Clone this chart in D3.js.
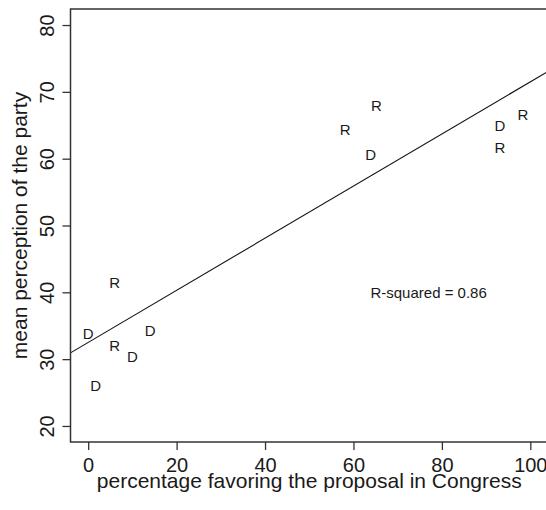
<!DOCTYPE html>
<meta charset="utf-8">
<style>
  body { margin: 0; background: #fff; }
  text { font-family: "Liberation Sans", Arial, sans-serif; fill: #1a1a1a; }
  .axis text { font-size: 20px; }
  .axis line, .axis path { stroke: #333; stroke-width: 1.3; }
  .title { font-size: 21px; text-anchor: middle; }
  .pt { font-size: 15px; text-anchor: middle; }
</style>
<body>
<svg width="546" height="510"></svg>
<script src="https://d3js.org/d3.v7.min.js"></script>
<script>

// party labels and positions of each point
var party = ["R", "D", "R", "D", "D", "D", "R", "R", "D", "R", "D", "R"];
var pctFavor = [6, 0, 6, 10, 14, 1.7, 65.2, 58.1, 63.9, 98.3, 93.1, 93.1];
var meanPerception = [41.4, 33.8, 32.0, 30.4, 34.2, 26.1, 68.0, 64.3, 60.6, 66.6, 64.9, 61.7];

var xTicks = [0, 20, 40, 60, 80, 100];
var yTicks = [20, 30, 40, 50, 60, 70, 80];

// fitted line
var fitIntercept = 32.5,
    fitSlope = 0.39;
var rsqText = "R-squared = 0.86";
var rsqAt = [77, 40];

var svg = d3.select("svg");

// R-style 4% padding around the axis limits
var x = d3.scaleLinear().domain([-4, 104]).range([70.5, 548]);
var y = d3.scaleLinear().domain([17.6, 82.4]).range([442, 9]);

svg.append("defs").append("clipPath")
    .attr("id", "plotarea")
  .append("rect")
    .attr("x", x(-4)).attr("y", y(82.4))
    .attr("width", x(104) - x(-4))
    .attr("height", y(17.6) - y(82.4));

// regression line
svg.append("line")
    .attr("clip-path", "url(#plotarea)")
    .attr("x1", x(-4)).attr("y1", y(fitIntercept + fitSlope * -4))
    .attr("x2", x(104)).attr("y2", y(fitIntercept + fitSlope * 104))
    .attr("stroke", "#111")
    .attr("stroke-width", 1.1);

// points drawn as party letters
svg.append("g")
  .selectAll("text")
  .data(party)
  .enter().append("text")
    .attr("class", "pt")
    .attr("x", function(d, i) { return x(pctFavor[i]); })
    .attr("y", function(d, i) { return y(meanPerception[i]); })
    .attr("dy", "0.36em")
    .text(function(d) { return d; });

svg.append("text")
    .attr("x", x(rsqAt[0]))
    .attr("y", y(rsqAt[1]))
    .attr("dy", "0.36em")
    .attr("text-anchor", "middle")
    .style("font-size", "15px")
    .text(rsqText);

var xAxis = svg.append("g")
    .attr("class", "axis")
    .attr("transform", "translate(0," + y(17.6) + ")")
    .call(d3.axisBottom(x).tickValues(xTicks).tickSize(8).tickSizeOuter(0).tickPadding(8));
xAxis.select(".domain").remove();

var yAxis = svg.append("g")
    .attr("class", "axis")
    .attr("transform", "translate(" + x(-4) + ",0)")
    .call(d3.axisLeft(y).tickValues(yTicks).tickSize(8).tickSizeOuter(0));
yAxis.select(".domain").remove();
yAxis.selectAll("text")
    .attr("transform", "rotate(-90)")
    .attr("x", 0)
    .attr("y", -16.5)
    .attr("dy", 0)
    .attr("text-anchor", "middle");

svg.selectAll(".axis text").attr("fill", "#1a1a1a");

// plot box (left, top, bottom; right edge falls off the image)
svg.append("path")
    .attr("d", "M" + x(104) + "," + y(82.4) + "H" + x(-4) + "V" + y(17.6) + "H" + x(104))
    .attr("fill", "none")
    .attr("stroke", "#333")
    .attr("stroke-width", 1.5);

svg.append("text")
    .attr("class", "title")
    .attr("x", x(50))
    .attr("y", 488)
    .text("percentage favoring the proposal in Congress");

svg.append("text")
    .attr("class", "title")
    .attr("transform", "translate(27," + y(50) + ") rotate(-90)")
    .text("mean perception of the party");

</script>
</body>
